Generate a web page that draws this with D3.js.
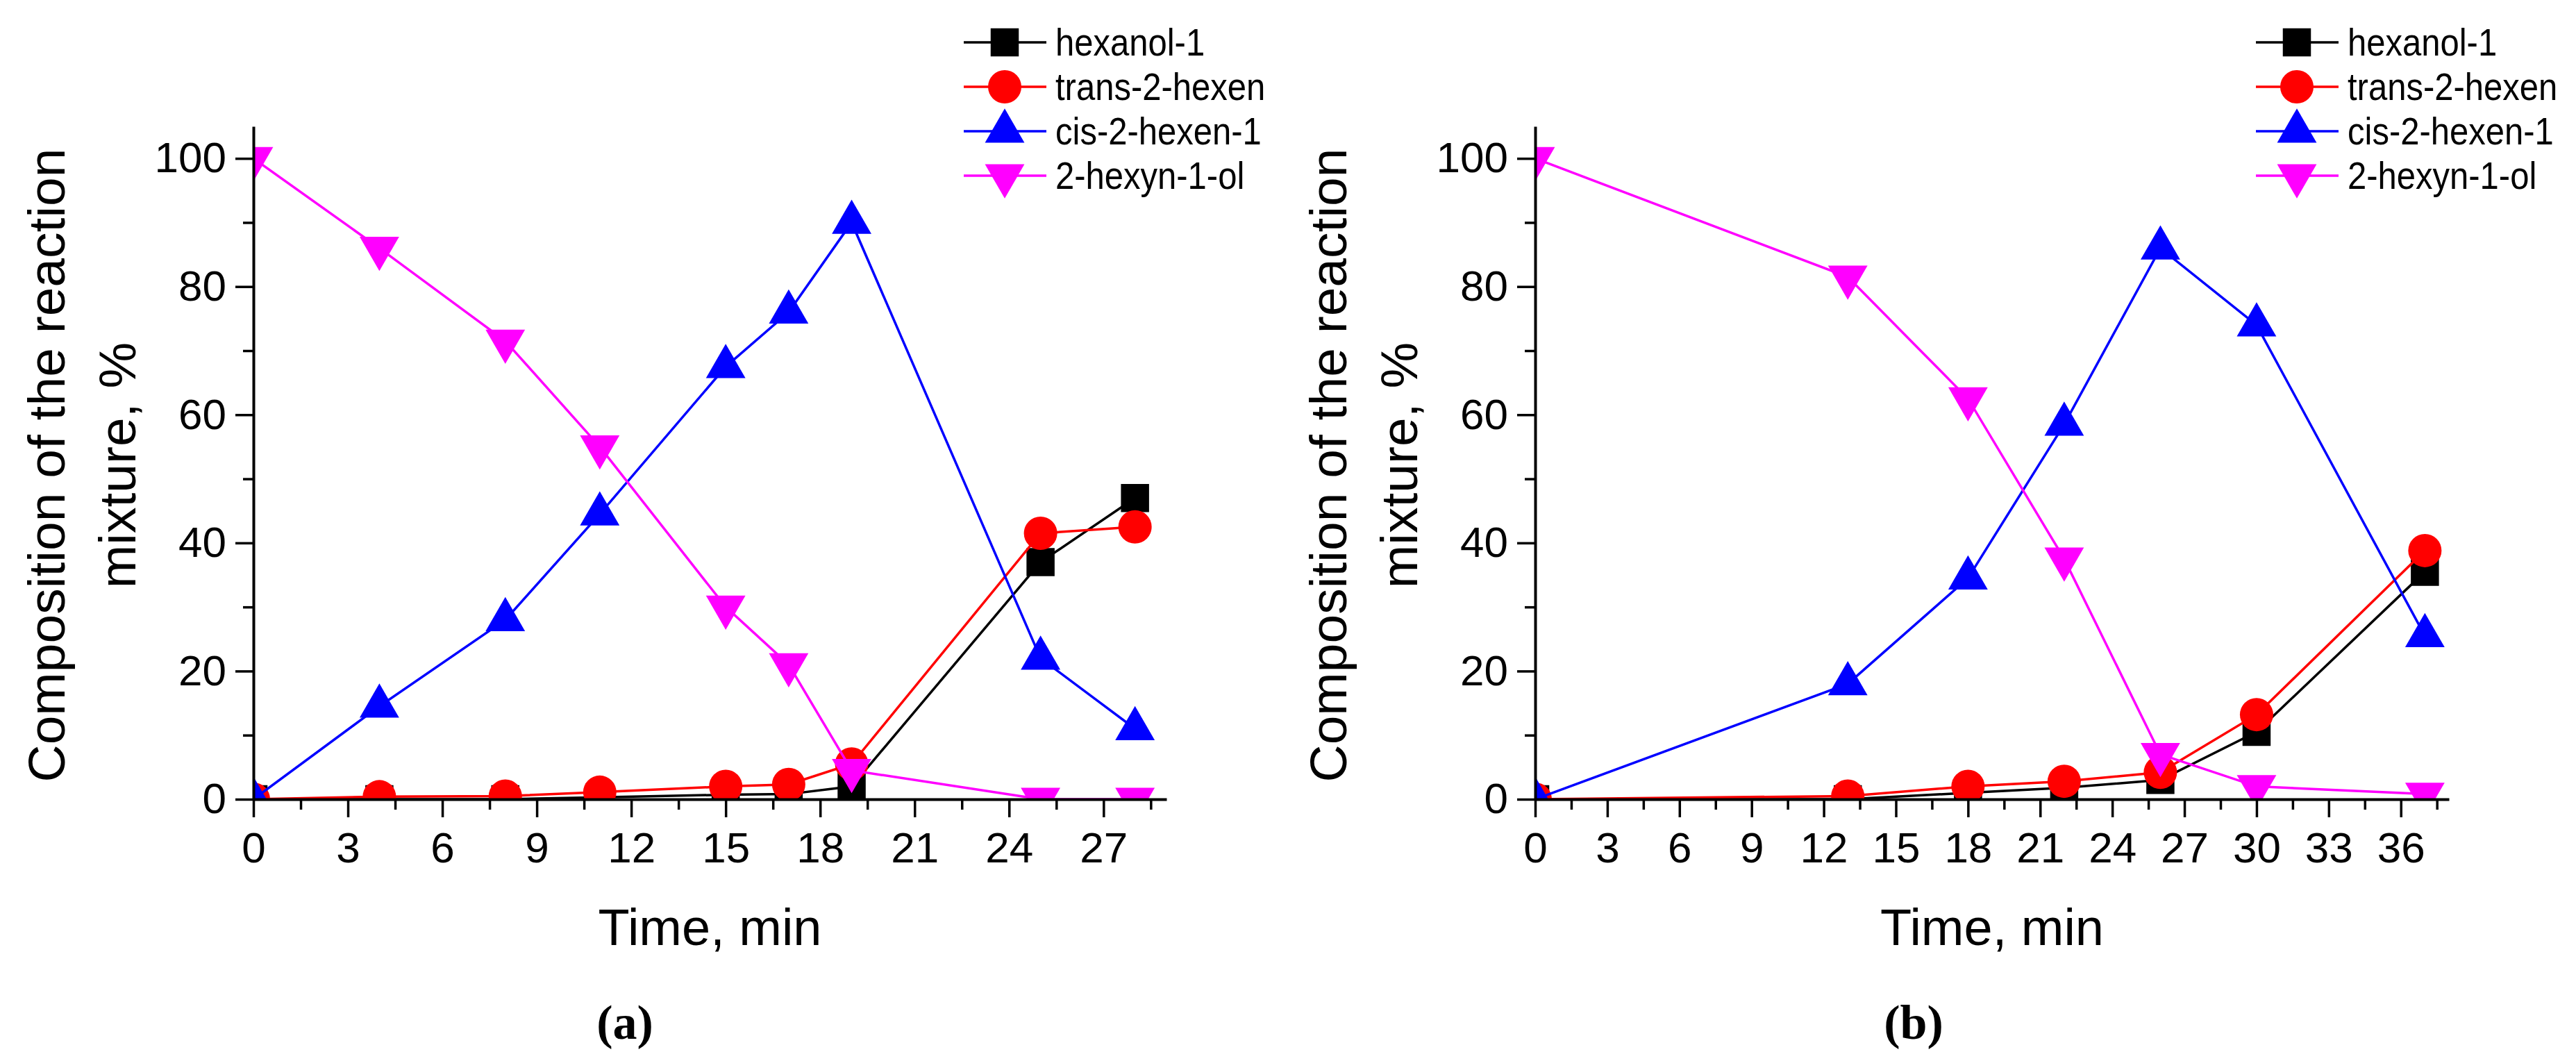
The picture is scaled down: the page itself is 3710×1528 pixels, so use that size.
<!DOCTYPE html>
<html>
<head>
<meta charset="utf-8">
<title>Composition of the reaction mixture</title>
<style>
  body { margin: 0; background: #fff; }
  text { font-family: "Liberation Sans", Arial, sans-serif; }
</style>
</head>
<body>
<div id="chart"></div>
<script src="https://cdn.jsdelivr.net/npm/d3@7/dist/d3.min.js"></script>
<script>
// legend labels as they appear in the figure (legend order = draw order)
var seriesNames = ["hexanol-1", "trans-2-hexen", "cis-2-hexen-1", "2-hexyn-1-ol"];
var seriesColors = ["#000000", "#ff0000", "#0000ff", "#ff00ff"];

// panel (a)
var timeA    = [0, 4, 8, 11, 15, 17, 19, 25, 28];
var hexanolA = [0, 0, 0, 0.3, 0.7, 0.8, 2, 37, 47];
var transA   = [0, 0.4, 0.5, 1.1, 2, 2.3, 5.5, 41.5, 42.5];
var cisA     = [0, 14.5, 28, 44.5, 67.5, 76, 90, 22, 11];
var hexynA   = [100, 86, 71.5, 55, 30, 21, 4.5, 0, 0];

// panel (b)
var timeB    = [0, 13, 18, 22, 26, 30, 37];
var hexanolB = [0, 0, 1, 1.8, 3, 10.5, 35.5];
var transB   = [0, 0.5, 2, 2.8, 4.2, 13.2, 38.8];
var cisB     = [0, 18, 34.5, 58.5, 86, 74, 25.5];
var hexynB   = [100, 81.5, 62.5, 37.5, 7, 2, 0.8];

// ticks
var yTicks  = [0, 20, 40, 60, 80, 100];
var yMinor  = [10, 30, 50, 70, 90];
var xTicksA = [0, 3, 6, 9, 12, 15, 18, 21, 24, 27];
var xMinorA = [1.5, 4.5, 7.5, 10.5, 13.5, 16.5, 19.5, 22.5, 25.5, 28.5];
var xTicksB = [0, 3, 6, 9, 12, 15, 18, 21, 24, 27, 30, 33, 36];
var xMinorB = [1.5, 4.5, 7.5, 10.5, 13.5, 16.5, 19.5, 22.5, 25.5, 28.5, 31.5, 34.5, 37.5];

var W = 3710, H = 1528;
var svg = d3.select("#chart").append("svg")
	.attr("width", W).attr("height", H)
	.style("display", "block");
svg.append("rect").attr("width", W).attr("height", H).attr("fill", "#fff");

var symbols = [
	d3.symbol().type(d3.symbolSquare).size(1640),
	d3.symbol().type(d3.symbolCircle).size(1810),
	d3.symbol().type(d3.symbolTriangle).size(1400),
	d3.symbol().type(d3.symbolTriangle).size(1400)
];
var flip = [false, false, false, true];

function marker(sel, i) {
	sel.attr("d", symbols[i]())
		.attr("fill", seriesColors[i]);
}

function drawPanel(p) {
	var x = d3.scaleLinear().domain([0, p.xmax]).range([p.left, p.right]);
	var y = d3.scaleLinear().domain([0, 105]).range([1151, 182]);

	var g = svg.append("g").attr("id", p.id);

	// data is clipped at the axes, like the original plot
	var clipId = "clip-" + p.id;
	g.append("clipPath").attr("id", clipId)
		.append("rect")
		.attr("x", p.left).attr("y", 0)
		.attr("width", p.right - p.left + 40).attr("height", 1151);

	var plot = g.append("g").attr("clip-path", "url(#" + clipId + ")");
	var line = d3.line().x(function(d) { return x(d[0]); }).y(function(d) { return y(d[1]); });

	p.series.forEach(function(vals, i) {
		var pts = p.time.map(function(t, k) { return [t, vals[k]]; });
		plot.append("path")
			.attr("d", line(pts))
			.attr("fill", "none")
			.attr("stroke", seriesColors[i])
			.attr("stroke-width", 3.5);
		plot.selectAll(null).data(pts).enter().append("path")
			.attr("transform", function(d) {
				return "translate(" + x(d[0]) + "," + y(d[1]) + ")" + (flip[i] ? " rotate(180)" : "");
			})
			.call(marker, i);
	});

	// axes
	var axY = g.append("g").attr("transform", "translate(" + p.left + ",0)")
		.call(d3.axisLeft(y).tickValues(yTicks).tickSize(26).tickPadding(13).tickSizeOuter(0));
	var axYm = g.append("g").attr("transform", "translate(" + p.left + ",0)")
		.call(d3.axisLeft(y).tickValues(yMinor).tickSize(15).tickFormat("").tickSizeOuter(0));
	var axX = g.append("g").attr("transform", "translate(0,1151)")
		.call(d3.axisBottom(x).tickValues(p.xTicks).tickSize(26).tickPadding(21).tickSizeOuter(0));
	var axXm = g.append("g").attr("transform", "translate(0,1151)")
		.call(d3.axisBottom(x).tickValues(p.xMinor).tickSize(15).tickFormat("").tickSizeOuter(0));

	[axYm, axXm].forEach(function(a) { a.select(".domain").remove(); });
	[axY, axYm, axX, axXm].forEach(function(a) {
		a.selectAll(".domain").attr("stroke", "#000").attr("stroke-width", 4);
		a.selectAll(".tick line").attr("stroke", "#000").attr("stroke-width", 3.5);
		a.selectAll(".tick text")
			.attr("fill", "#000")
			.style("font-family", "'Liberation Sans', Arial, sans-serif")
			.style("font-size", "62px");
	});

	// axis titles
	g.append("text")
		.attr("x", (p.left + p.right) / 2).attr("y", 1361)
		.attr("text-anchor", "middle")
		.style("font-size", "74px")
		.text("Time, min");

	var yt = g.append("text")
		.attr("transform", "translate(" + (p.left - 299) + ",670) rotate(-90)")
		.attr("text-anchor", "middle")
		.style("font-size", "75px");
	yt.append("tspan").attr("x", 0).attr("y", 27).text("Composition of the reaction");
	yt.append("tspan").attr("x", 0).attr("y", 129).text("mixture, %");

	// panel label
	g.append("text")
		.attr("x", p.labelX).attr("y", 1496)
		.attr("text-anchor", "middle")
		.style("font-family", "'Liberation Serif', 'Times New Roman', serif")
		.style("font-weight", "bold")
		.style("font-size", "70px")
		.text(p.label);

	// legend
	var leg = g.append("g");
	seriesNames.forEach(function(name, i) {
		var cy = 61 + i * 64;
		leg.append("line")
			.attr("x1", p.legX - 59).attr("x2", p.legX + 60)
			.attr("y1", cy).attr("y2", cy)
			.attr("stroke", seriesColors[i]).attr("stroke-width", 3.5);
		leg.append("path")
			.attr("transform", "translate(" + p.legX + "," + cy + ")" + (flip[i] ? " rotate(180)" : ""))
			.call(marker, i);
		leg.append("text")
			.attr("transform", "translate(" + (p.legX + 73) + "," + (cy + 19) + ") scale(0.875,1)")
			.style("font-size", "56px")
			.text(name);
	});
}

drawPanel({
	id: "a", left: 365, right: 1680, xmax: 29,
	time: timeA, series: [hexanolA, transA, cisA, hexynA],
	xTicks: xTicksA, xMinor: xMinorA,
	label: "(a)", labelX: 900,
	legX: 1447
});

drawPanel({
	id: "b", left: 2211, right: 3527, xmax: 38,
	time: timeB, series: [hexanolB, transB, cisB, hexynB],
	xTicks: xTicksB, xMinor: xMinorB,
	label: "(b)", labelX: 2756,
	legX: 3308
});
</script>
</body>
</html>
